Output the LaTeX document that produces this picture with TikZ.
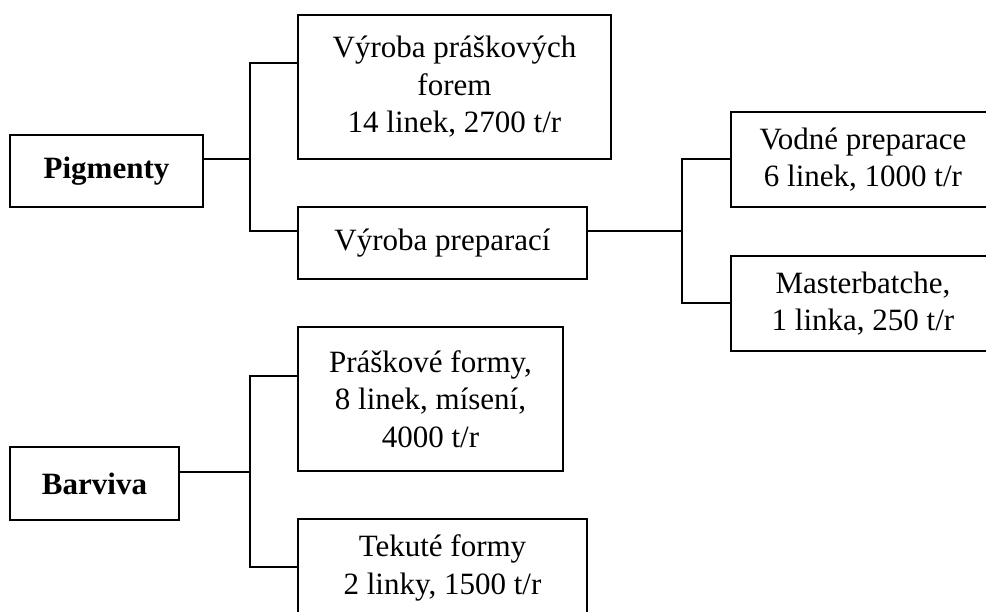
\documentclass[tikz,border=0pt]{standalone}
\usepackage{fontspec}
\setmainfont{Liberation Serif}
\usepackage{tikz}
\usetikzlibrary{positioning}

\begin{document}
\begin{tikzpicture}[
    x=0.5pt, y=-0.5pt,
    box/.style={draw, line width=1pt, inner sep=0pt, align=center, font=\fontsize{15.5}{18.75}\selectfont},
    rootbox/.style={box, font=\fontsize{15.5}{18.75}\selectfont\bfseries},
    conn/.style={line width=1pt}
  ]
    \useasboundingbox (0,0) rectangle (986,611);
    \node[rootbox, minimum width=96.5pt, minimum height=36pt] (pig) at (106.5,171) {Pigmenty};
    \node[box, minimum width=156.5pt, minimum height=72pt] (prasek) at (454.5,87) {Výroba práškových\\forem\\14 linek, 2700 t/r};
    \node[box, minimum width=144.5pt, minimum height=36pt] (prep) at (442.5,243) {Výroba preparací};
    \node[box, minimum width=132pt, minimum height=47.5pt] (vodne) at (863,159.5) {Vodné preparace\\6 linek, 1000 t/r};
    \node[box, minimum width=132pt, minimum height=47.5pt] (master) at (863,303.5) {Masterbatche,\\1 linka, 250 t/r};
    \node[rootbox, minimum width=84.5pt, minimum height=36.5pt] (barv) at (94.5,483.5) {Barviva};
    \node[box, minimum width=132.5pt, minimum height=72pt] (praskf) at (430.5,399) {Práškové formy,\\8 linek, mísení,\\4000 t/r};
    \node[box, minimum width=144.5pt, minimum height=49pt] (tekute) at (442.5,568) {Tekuté formy\\2 linky, 1500 t/r};
    \coordinate (j1) at (250,159);
    \coordinate (j1a) at (250,63);
    \coordinate (j1b) at (250,231);
    \coordinate (j2) at (682,231);
    \coordinate (j2a) at (682,159);
    \coordinate (j2b) at (682,303);
    \coordinate (j3) at (250,472);
    \coordinate (j3a) at (250,376);
    \coordinate (j3b) at (250,567);
    \draw[conn] (pig.east |- j1) -- (j1);
    \draw[conn] (prasek.west |- j1a) -- (j1a) -- (j1b) -- (prep.west |- j1b);
    \draw[conn] (prep.east |- j2) -- (j2);
    \draw[conn] (vodne.west |- j2a) -- (j2a) -- (j2b) -- (master.west |- j2b);
    \draw[conn] (barv.east |- j3) -- (j3);
    \draw[conn] (praskf.west |- j3a) -- (j3a) -- (j3b) -- (tekute.west |- j3b);
  \end{tikzpicture}
\end{document}
